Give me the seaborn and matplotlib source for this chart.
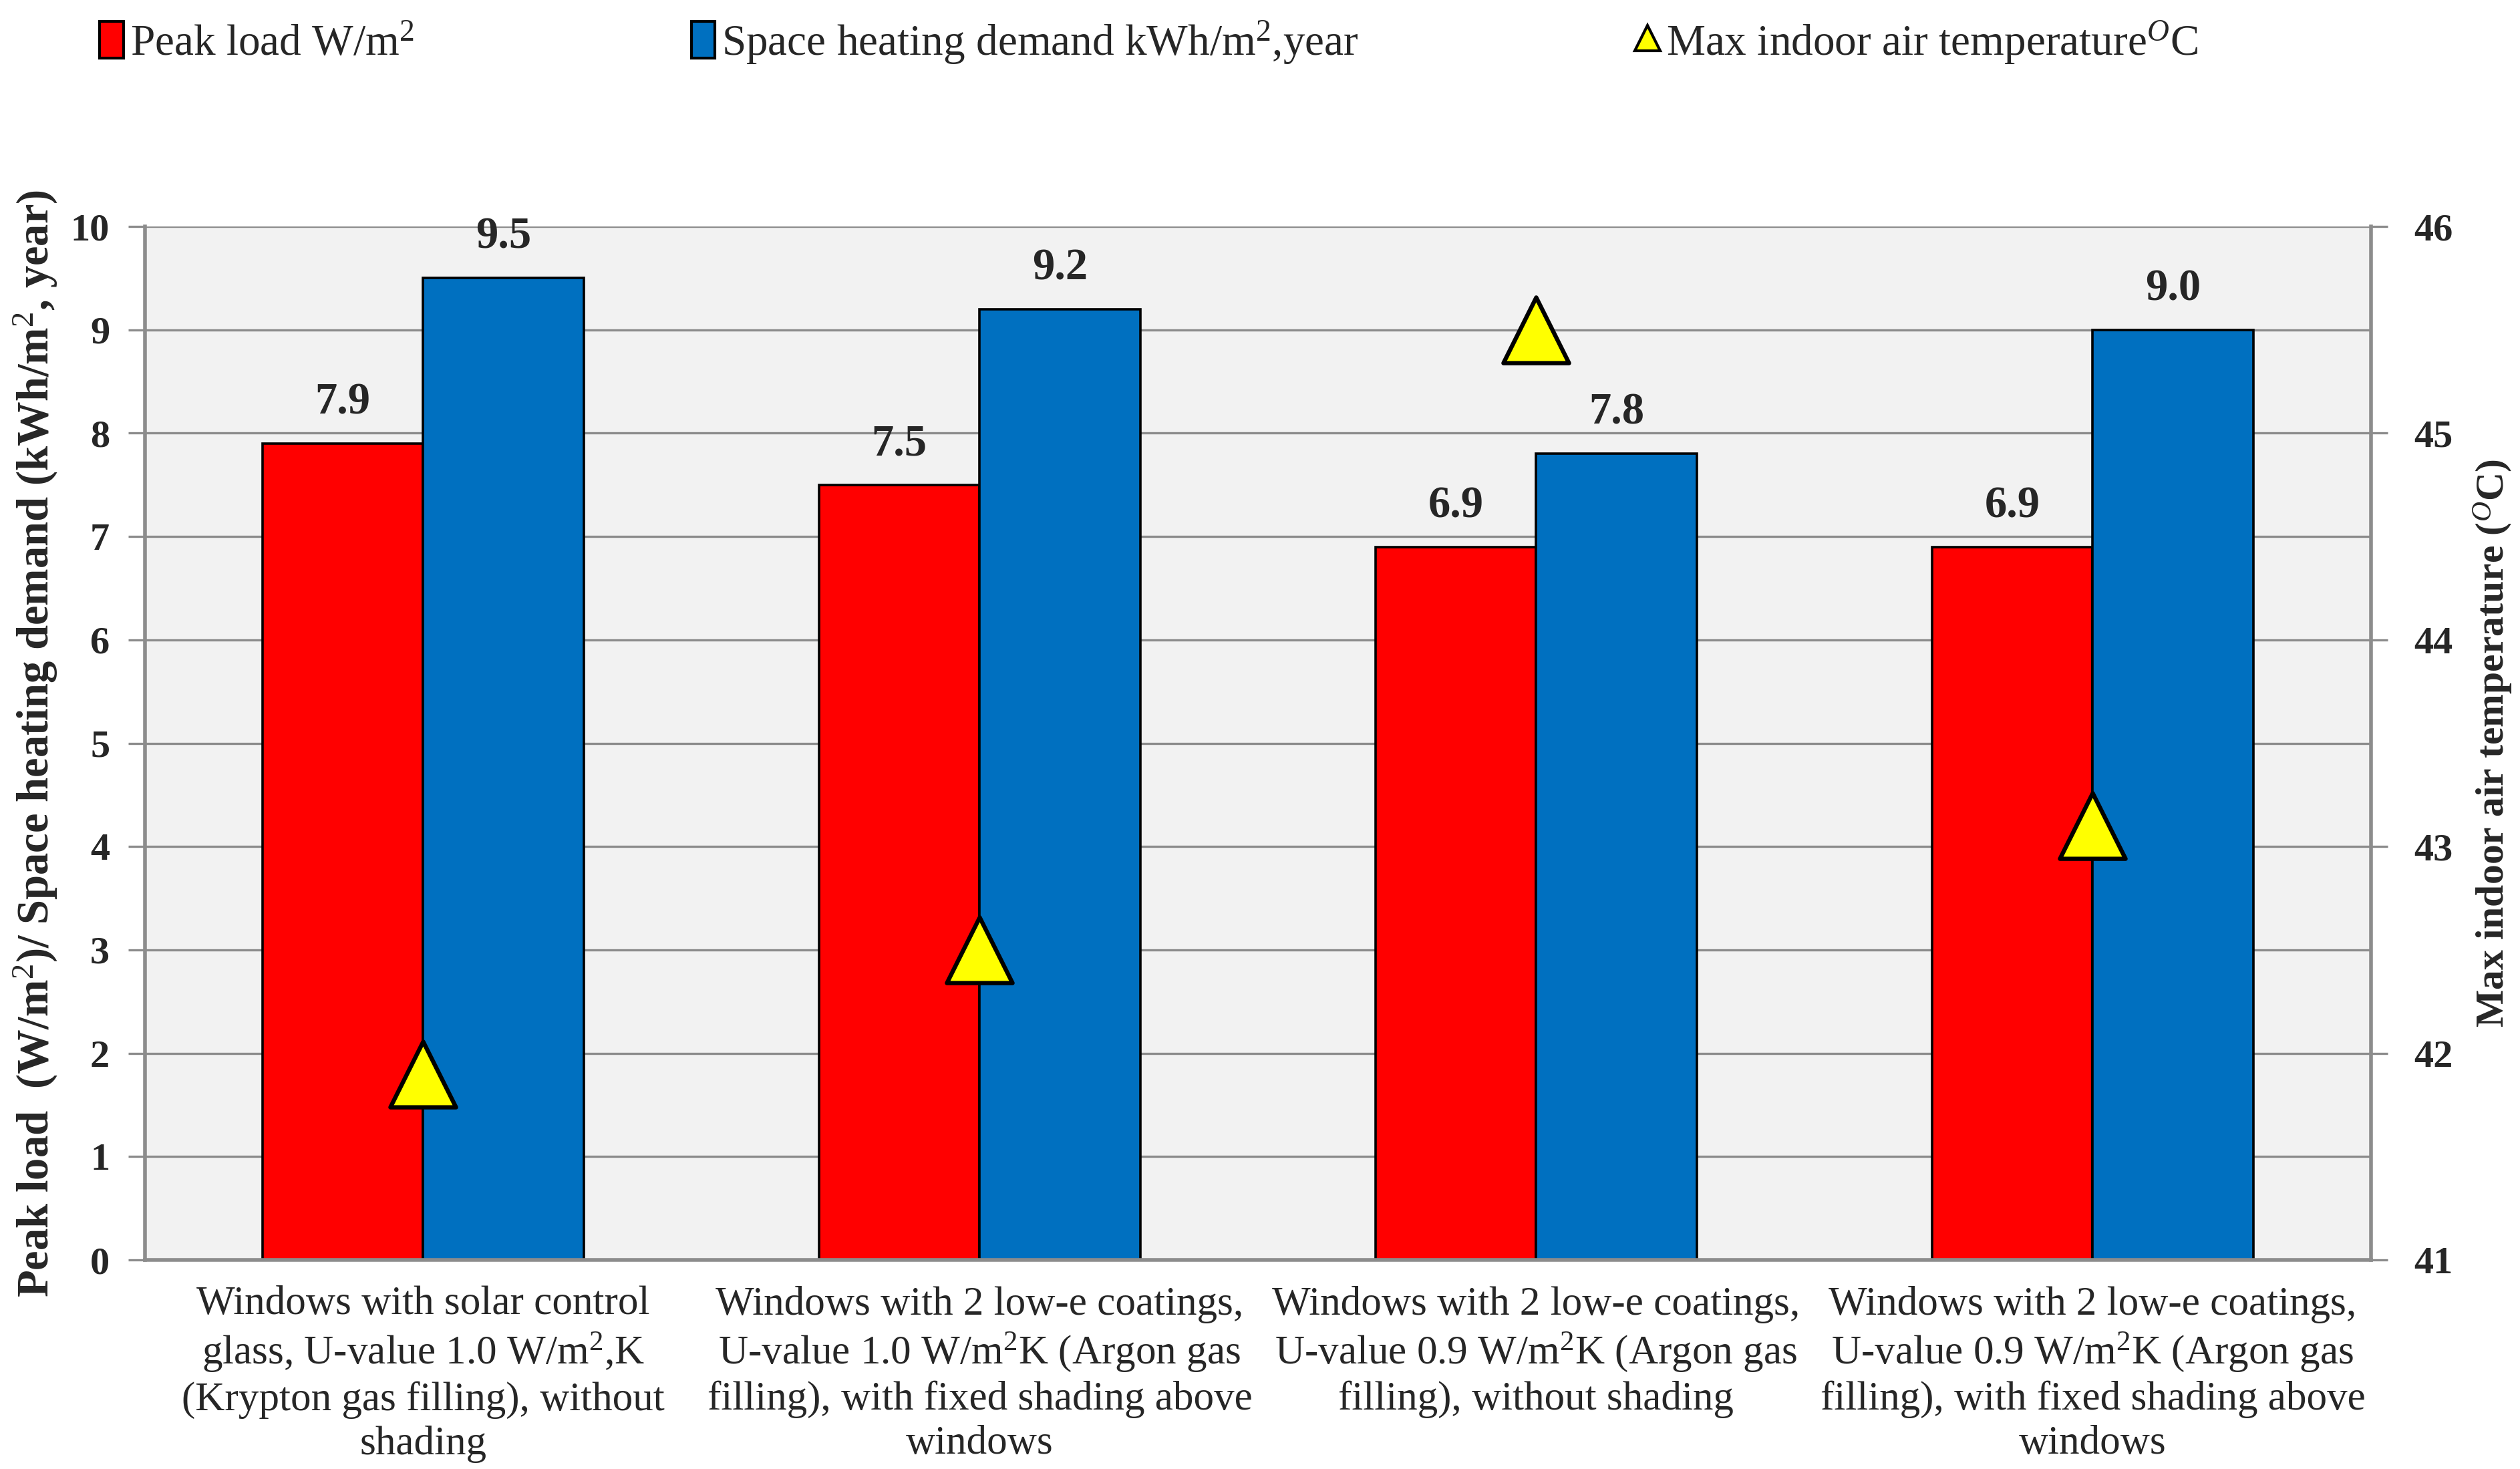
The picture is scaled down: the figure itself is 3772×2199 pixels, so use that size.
import matplotlib
matplotlib.use("Agg")
import matplotlib.pyplot as plt
import seaborn as sns
import pandas as pd
import numpy as np
from matplotlib.patches import Patch
from matplotlib.lines import Line2D

categories = [
    "Windows with solar control\nglass, U-value 1.0 W/m$^2$,K\n(Krypton gas filling), without\nshading",
    "Windows with 2 low-e coatings,\nU-value 1.0 W/m$^2$K (Argon gas\nfilling), with fixed shading above\nwindows",
    "Windows with 2 low-e coatings,\nU-value 0.9 W/m$^2$K (Argon gas\nfilling), without shading",
    "Windows with 2 low-e coatings,\nU-value 0.9 W/m$^2$K (Argon gas\nfilling), with fixed shading above\nwindows",
]
peak_load = [7.9, 7.5, 6.9, 6.9]
heating_demand = [9.5, 9.2, 7.8, 9.0]
max_temp = [41.9, 42.5, 45.5, 43.1]

lbl_peak = "Peak load W/m$^2$"
lbl_heat = "Space heating demand kWh/m$^2$,year"
lbl_temp = "Max indoor air temperature$^{O}$C"

df = pd.DataFrame({
    "cat": categories * 2,
    "value": peak_load + heating_demand,
    "series": [lbl_peak] * 4 + [lbl_heat] * 4,
})

sns.set_style("white")
plt.rcParams["font.family"] = ["Liberation Serif", "DejaVu Serif"]
plt.rcParams["mathtext.fontset"] = "custom"
plt.rcParams["mathtext.rm"] = "Liberation Serif"
plt.rcParams["mathtext.it"] = "Liberation Serif:italic"
plt.rcParams["mathtext.bf"] = "Liberation Serif:bold"

fig = plt.figure(figsize=(18.865, 10.995), dpi=200)
ax = fig.add_axes([0.0575, 0.1423, 0.8831, 0.7035])
ax.set_facecolor("#F2F2F2")

sns.barplot(data=df, x="cat", y="value", hue="series",
            palette=["#FF0000", "#0070C0"], saturation=1, width=0.578,
            edgecolor="black", linewidth=1.3, ax=ax, legend=False)

for cont in ax.containers:
    ax.bar_label(cont, fmt="%.1f", padding=11, fontsize=24, fontweight="bold")

ax.set_ylim(0, 10)
ax.set_xlim(-0.5, 3.5)
ax.set_yticks(range(0, 11))
ax.yaxis.grid(True, color="#8C8C8C", linewidth=1.2)
ax.set_axisbelow(True)
ax.tick_params(axis="y", direction="out", length=9, width=1.2, color="#8C8C8C",
               labelsize=21, left=True, pad=10)
for t in ax.get_yticklabels():
    t.set_fontweight("bold")
ax.set_xticks(range(4))
ax.set_xticklabels(categories, fontsize=22, linespacing=1.24)
ax.tick_params(axis="x", length=0, pad=14)
ax.set_xticks(np.arange(-0.5, 4, 1), minor=True)
ax.tick_params(axis="x", which="minor", direction="out", length=8, width=1, color="#8C8C8C")
ax.set_xlabel("")
ax.set_ylabel("Peak load  (W/m$^2$)/ Space heating demand (kWh/m$^2$, year)",
              fontsize=24, fontweight="bold", labelpad=6)
for side in ["left", "bottom", "right"]:
    ax.spines[side].set_color("#8C8C8C")
    ax.spines[side].set_linewidth(2)
ax.spines["top"].set_visible(False)

ax2 = ax.twinx()
sns.scatterplot(x=np.arange(len(max_temp)), y=max_temp, marker="^", s=1250,
                color="#FFFF00", edgecolor="black", linewidth=2.3, ax=ax2, zorder=5)
ax2.set_xlim(-0.5, 3.5)
ax2.set_ylim(41, 46)
ax2.set_yticks(range(41, 47))
ax2.tick_params(axis="y", direction="out", length=9, width=1.2, color="#8C8C8C",
                labelsize=21, right=True, pad=14)
for t in ax2.get_yticklabels():
    t.set_fontweight("bold")
ax2.set_ylabel("Max indoor air temperature ($^{O}$C)", fontsize=21.5,
               fontweight="bold", labelpad=10)
for side in ["left", "bottom", "right", "top"]:
    ax2.spines[side].set_visible(False)

handles = [
    Patch(facecolor="#FF0000", edgecolor="black", linewidth=1.5),
    Patch(facecolor="#0070C0", edgecolor="black", linewidth=1.5),
    Line2D([], [], marker="^", linestyle="none", markersize=14,
           markerfacecolor="#FFFF00", markeredgecolor="black", markeredgewidth=1.5),
]
fig.legend(handles, [lbl_peak, lbl_heat, lbl_temp], loc="upper left",
           bbox_to_anchor=(0.024, 1.014), ncol=3, frameon=False, fontsize=23.5,
           handlelength=0.55, handleheight=0.9, handletextpad=0.15,
           columnspacing=6.35)

fig.savefig("out.png", dpi=200)
